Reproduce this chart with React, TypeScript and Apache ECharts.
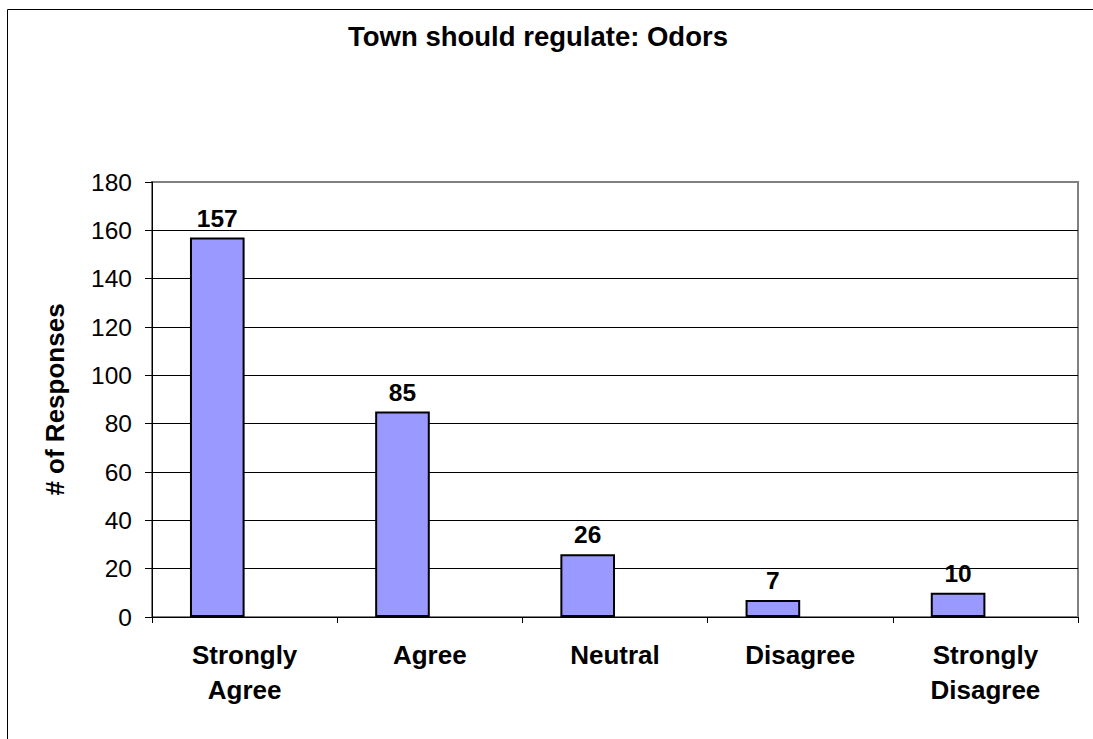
import React, { useEffect, useRef } from "react";
import * as echarts from "echarts";

const categories = ["Strongly\nAgree", "Agree", "Neutral", "Disagree", "Strongly\nDisagree"];
const responses = [157, 85, 26, 7, 10];
const emptySeries = [null, null, null, null, null];
const titleText = "Town should regulate: Odors";
const yAxisName = "# of Responses";

const FONT = "'Liberation Sans', Arial, sans-serif";

export default function App() {
  const ref = useRef<HTMLDivElement>(null);
  useEffect(() => {
    document.body.style.margin = "0";
    const chart = echarts.init(ref.current!, null, { renderer: "svg" });
    const gridColors = ["#000", "#000", "#000", "#000", "#000", "#000", "#000", "#000", "#000", "#808080"];
    chart.setOption({
      animation: false,
      backgroundColor: "#fff",
      title: {
        text: titleText,
        left: 533,
        textAlign: "center",
        top: 17,
        textStyle: { fontFamily: FONT, fontSize: 27.5, fontWeight: "bold", color: "#000" },
      },
      grid: {
        left: 152,
        right: 15,
        top: 182,
        bottom: 122,
        show: true,
        borderColor: "#808080",
        borderWidth: 2,
        backgroundColor: "#fff",
      },
      xAxis: {
        type: "category",
        data: categories,
        axisLine: { lineStyle: { color: "#000", width: 1 } },
        axisTick: { show: true, length: 6, lineStyle: { color: "#000" } },
        axisLabel: {
          fontFamily: FONT,
          fontSize: 26,
          fontWeight: "bold",
          color: "#000",
          margin: 20,
          lineHeight: 35,
          interval: 0,
        },
        splitLine: { show: false },
      },
      yAxis: {
        type: "value",
        min: 0,
        max: 180,
        interval: 20,
        name: yAxisName,
        nameLocation: "middle",
        nameGap: 84,
        nameRotate: 90,
        nameTextStyle: { fontFamily: FONT, fontSize: 26, fontWeight: "bold", color: "#000" },
        axisLine: { show: true, lineStyle: { color: "#000", width: 1 } },
        axisTick: { show: true, inside: false, length: 7, lineStyle: { color: "#000" } },
        axisLabel: { fontFamily: FONT, fontSize: 24.5, color: "#000", margin: 20 },
        splitLine: { show: true, lineStyle: { color: gridColors, width: 1 } },
      },
      series: [
        {
          type: "bar",
          data: responses,
          barGap: "0%",
          barCategoryGap: "41%",
          itemStyle: { color: "#9999FF", borderColor: "#000", borderWidth: 2 },
          label: {
            show: true,
            position: "top",
            distance: 7,
            fontFamily: FONT,
            fontSize: 24.5,
            fontWeight: "bold",
            color: "#000",
          },
        },
        {
          type: "bar",
          data: emptySeries,
          barGap: "0%",
          barCategoryGap: "41%",
          itemStyle: { color: "#993366" },
        },
      ],
      graphic: [
        {
          type: "rect",
          shape: { x: 7.5, y: 9.5, width: 1100, height: 750 },
          style: { fill: "none", stroke: "#000", lineWidth: 1 },
          z: 100,
        },
      ],
    });
    return () => chart.dispose();
  }, []);
  return <div ref={ref} style={{ width: 1093, height: 739 }} />;
}
